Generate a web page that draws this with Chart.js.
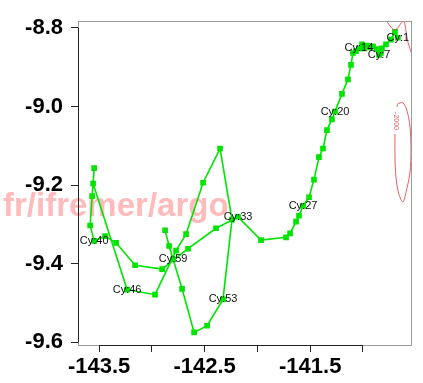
<!DOCTYPE html>
<html>
<head>
<meta charset="utf-8">
<title>Trajectoire flotteur Argo</title>
<script src="https://cdn.jsdelivr.net/npm/chart.js@4.4.1/dist/chart.umd.min.js"></script>
<style>
  html, body { margin: 0; padding: 0; background: #fff; }
  #wrap { width: 423px; height: 383px; }
</style>
</head>
<body>
<div id="wrap"><canvas id="traj" width="423" height="383"></canvas></div>
<script>
// positions du flotteur par cycle (longitude / latitude)
const cycles = [1, 2, 3, 4, 5, 6, 7, 8, 9, 10, 11, 12, 13, 14, 15, 16, 17, 18, 19, 20,
  21, 22, 23, 24, 25, 26, 27, 28, 29, 30, 31, 32, 33, 34, 35, 36, 37, 38, 39, 40,
  41, 42, 43, 44, 46, 47, 48, 49, 50, 51, 52, 53, 54, 55, 56, 59, 60, 61];
const lon = [-140.669, -140.697, -140.735, -140.782, -140.820, -140.830, -140.848, -140.867, -140.905, -140.934,
  -140.962, -140.991, -141.009, -141.038, -141.066, -141.095, -141.114, -141.142, -141.199, -141.265,
  -141.294, -141.341, -141.379, -141.417, -141.464, -141.511, -141.568, -141.606, -141.634, -141.691,
  -141.729, -141.966, -142.184, -142.392, -142.657, -142.903, -143.159, -143.339, -143.443, -143.547,
  -143.585, -143.566, -143.547, -143.557, -143.235, -142.970, -142.771, -142.676, -142.515, -142.354,
  -142.241, -142.326, -142.477, -142.600, -142.714, -142.799, -142.837, -142.875];
const lat = [-8.825, -8.810, -8.830, -8.842, -8.852, -8.864, -8.869, -8.854, -8.847, -8.850,
  -8.845, -8.852, -8.842, -8.852, -8.859, -8.864, -8.894, -8.931, -8.968, -9.013,
  -9.033, -9.060, -9.107, -9.129, -9.186, -9.231, -9.253, -9.278, -9.293, -9.323,
  -9.333, -9.340, -9.281, -9.310, -9.362, -9.414, -9.404, -9.347, -9.330, -9.342,
  -9.303, -9.228, -9.157, -9.196, -9.466, -9.479, -9.367, -9.325, -9.194, -9.107,
  -9.288, -9.491, -9.558, -9.575, -9.464, -9.389, -9.355, -9.315];
const cyclesEtiquetes = [1, 7, 14, 20, 27, 33, 40, 46, 53, 59];

// graduations
const xTicks = [-143.5, -143.0, -142.5, -142.0, -141.5, -141.0];
const xTickLabels = ['-143.5', '', '-142.5', '', '-141.5', ''];
const yTicks = [-9.6, -9.4, -9.2, -9.0, -8.8];
const yTickLabels = ['-9.6', '-9.4', '-9.2', '-9.0', '-8.8'];

// isobathe -2000 m
const isoNordLon = [-140.782, -140.744, -140.706, -140.669, -140.640, -140.612, -140.593, -140.574, -140.536];
const isoNordLat = [-8.780, -8.795, -8.805, -8.800, -8.788, -8.783, -8.807, -8.837, -8.867];
const isoEstLon = [-140.697, -140.697, -140.688, -140.659, -140.621, -140.593, -140.555, -140.545, -140.555, -140.583, -140.621, -140.669, -140.678];
const isoEstLat = [-9.070, -9.124, -9.179, -9.224, -9.243, -9.219, -9.169, -9.112, -9.050, -9.011, -8.991, -8.993, -9.001];
const isoLabel = { lon: -140.688, lat: -9.037, texte: '-2000' };

const vert = '#00e400';
const rouge = 'rgba(220, 70, 70, 0.85)';

const pts = (xs, ys) => xs.map((x, i) => ({ x: x, y: ys[i] }));

Chart.defaults.font.family = "'Liberation Sans', Arial, sans-serif";

// filigrane, cadre, axes et étiquettes des cycles
const decor = {
  id: 'decor',
  beforeDatasetsDraw(chart) {
    const ctx = chart.ctx;
    ctx.save();
    ctx.font = "bold 33px 'Liberation Sans', Arial, sans-serif";
    ctx.fillStyle = 'rgba(255, 120, 120, 0.5)';
    ctx.textAlign = 'left';
    ctx.textBaseline = 'alphabetic';
    ctx.fillText('fr/ifremer/argo', 3, 216);
    ctx.restore();
  },
  afterDatasetsDraw(chart) {
    const ctx = chart.ctx;
    const a = chart.chartArea;
    const xs = chart.scales.x, ys = chart.scales.y;
    ctx.save();
    // cadre gris
    ctx.strokeStyle = '#9a9a9a';
    ctx.lineWidth = 1;
    ctx.strokeRect(Math.round(a.left) + 0.5, Math.round(a.top) + 0.5,
      Math.round(a.right - a.left), Math.round(a.bottom - a.top));
    // lignes d'axe entre première et dernière graduation
    ctx.strokeStyle = '#222';
    ctx.beginPath();
    ctx.moveTo(Math.round(a.left) + 0.5, ys.getPixelForValue(yTicks[0]));
    ctx.lineTo(Math.round(a.left) + 0.5, ys.getPixelForValue(yTicks[yTicks.length - 1]));
    ctx.moveTo(xs.getPixelForValue(xTicks[0]), Math.round(a.bottom) + 0.5);
    ctx.lineTo(xs.getPixelForValue(xTicks[xTicks.length - 1]), Math.round(a.bottom) + 0.5);
    ctx.stroke();

    // étiquette de l'isobathe
    ctx.save();
    ctx.translate(xs.getPixelForValue(isoLabel.lon), ys.getPixelForValue(isoLabel.lat));
    ctx.rotate(Math.PI / 2);
    ctx.font = "7px 'Liberation Sans', Arial, sans-serif";
    ctx.fillStyle = rouge;
    ctx.textAlign = 'center';
    ctx.textBaseline = 'middle';
    ctx.fillText(isoLabel.texte, 0, 0);
    ctx.restore();

    // numéros de cycle
    ctx.font = "11px 'Liberation Sans', Arial, sans-serif";
    ctx.fillStyle = '#111';
    ctx.textAlign = 'center';
    ctx.textBaseline = 'middle';
    cyclesEtiquetes.forEach(c => {
      const i = cycles.indexOf(c);
      if (i < 0) return;
      ctx.fillText('Cy:' + c, xs.getPixelForValue(lon[i]), ys.getPixelForValue(lat[i]));
    });
    ctx.restore();
  }
};

try {
  const ctx = document.getElementById('traj').getContext('2d');
  new Chart(ctx, {
    type: 'scatter',
    data: {
      datasets: [
        {
          label: 'isobathe nord',
          data: pts(isoNordLon, isoNordLat),
          showLine: true,
          borderColor: rouge,
          borderWidth: 1,
          pointRadius: 0,
          tension: 0.3
        },
        {
          label: 'isobathe est',
          data: pts(isoEstLon, isoEstLat),
          showLine: true,
          borderColor: rouge,
          borderWidth: 1,
          pointRadius: 0,
          tension: 0.3
        },
        {
          label: 'trajectoire',
          data: pts(lon, lat),
          showLine: true,
          borderColor: vert,
          borderWidth: 1.6,
          backgroundColor: vert,
          pointStyle: 'rect',
          pointRadius: 4,
          pointBorderWidth: 0,
          tension: 0
        }
      ]
    },
    options: {
      responsive: false,
      animation: false,
      layout: { padding: { left: 0, right: 12, top: 12, bottom: 0 } },
      plugins: {
        legend: { display: false },
        tooltip: { enabled: false }
      },
      scales: {
        x: {
          type: 'linear',
          min: -143.70,
          max: -140.545,
          afterBuildTicks: s => { s.ticks = xTicks.map(v => ({ value: v })); },
          afterFit: s => { s.height = 38; },
          border: { display: false },
          grid: { drawOnChartArea: false, drawTicks: true, tickLength: 7, tickColor: '#222', tickWidth: 1 },
          ticks: {
            autoSkip: false, maxRotation: 0, padding: 2, color: '#000',
            font: { size: 22, weight: 'bold' },
            callback: (v, i) => xTickLabels[i]
          }
        },
        y: {
          type: 'linear',
          min: -9.607,
          max: -8.783,
          afterBuildTicks: s => { s.ticks = yTicks.map(v => ({ value: v })); },
          afterFit: s => { s.width = 78; },
          border: { display: false },
          grid: { drawOnChartArea: false, drawTicks: true, tickLength: 7, tickColor: '#222', tickWidth: 1 },
          ticks: {
            autoSkip: false, padding: 8, color: '#000',
            font: { size: 22, weight: 'bold' },
            callback: (v, i) => yTickLabels[i]
          }
        }
      }
    },
    plugins: [decor]
  });
} catch (e) {
  console.error('Erreur graphique :', e);
}
</script>
</body>
</html>
